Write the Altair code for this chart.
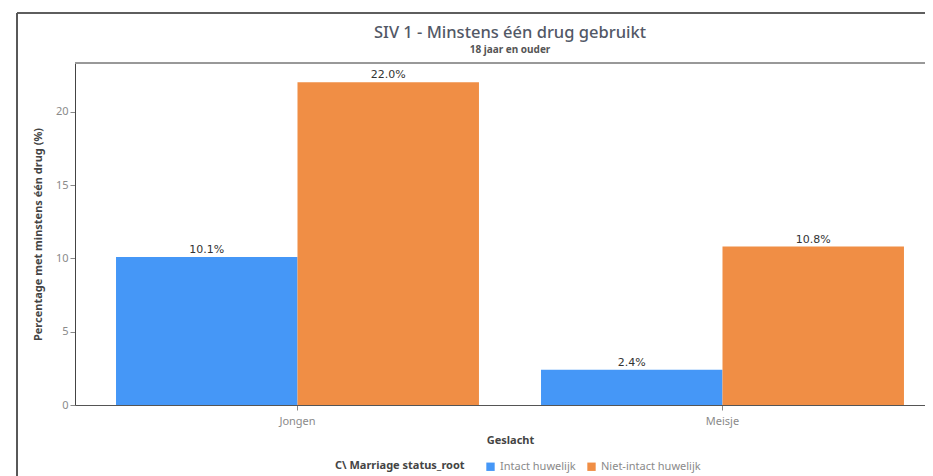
import altair as alt
import pandas as pd

geslacht = ["Jongen", "Jongen", "Meisje", "Meisje"]
status = ["Intact huwelijk", "Niet-intact huwelijk", "Intact huwelijk", "Niet-intact huwelijk"]
waarden = [10.1, 22.0, 2.4, 10.8]
categories = ["Jongen", "Meisje"]
series = ["Intact huwelijk", "Niet-intact huwelijk"]
colors = ["#4597f7", "#f08e45"]

df = pd.DataFrame({"Geslacht": geslacht, "Status": status, "Waarde": waarden})

W, H = 850, 342
FONT = "Noto Sans"

x = alt.X("Geslacht:N", sort=categories, title="Geslacht",
          scale=alt.Scale(paddingInner=0.146, paddingOuter=0.073, align=0.661),
          axis=alt.Axis(labelAngle=0, labelColor="#8a8a8a", labelFontSize=11, labelFont=FONT,
                        titleFontSize=11, titleFont=FONT, titleFontWeight="bold", titleColor="#444",
                        titlePadding=8, titleX=435, tickColor="#888", domainColor="#555", labelPadding=5))
xo = alt.XOffset("Status:N", sort=series, scale=alt.Scale(paddingInner=0, paddingOuter=0))
y = alt.Y("Waarde:Q", title="Percentage met minstens één drug (%)",
          scale=alt.Scale(domain=[0, 23.32], nice=False),
          axis=alt.Axis(values=[0, 5, 10, 15, 20], grid=False, labelColor="#8a8a8a", labelFontSize=11,
                        labelFont=FONT, titleFontSize=11, titleFont=FONT, titleFontWeight="bold",
                        titleColor="#444", titlePadding=12, tickColor="#888", domainColor="#444"))
color = alt.Color("Status:N", sort=series, scale=alt.Scale(domain=series, range=colors),
                  legend=alt.Legend(title="C\\ Marriage status_root", orient="none", legendX=260, legendY=398,
                                    direction="horizontal", titleOrient="left", symbolType="square",
                                    symbolSize=70, symbolStrokeWidth=0, labelColor="#8a8a8a", labelFontSize=11,
                                    labelFont=FONT, titleFont=FONT, titleFontSize=11, titleColor="#444",
                                    titleFontWeight="bold", columnPadding=10, titlePadding=20))

base = alt.Chart(df)
bars = base.mark_bar().encode(x=x, xOffset=xo, y=y, color=color)
labels = base.mark_text(dy=-7, fontSize=11, color="#333", font="DejaVu Sans").encode(
    x=alt.X("Geslacht:N", sort=categories), xOffset=xo, y=alt.Y("Waarde:Q"),
    text=alt.Text("label:N")).transform_calculate(label="format(datum.Waarde, '.1f') + '%'")

topline = alt.Chart(df).mark_rule(color="#999", strokeWidth=1.5).encode(
    x=alt.value(0), x2=alt.value(W), y=alt.value(0))
frame_top = alt.Chart(df).mark_rule(color="#555", strokeWidth=1.2).encode(
    x=alt.value(-58), x2=alt.value(W), y=alt.value(-50))
frame_left = alt.Chart(df).mark_rule(color="#555", strokeWidth=1.2).encode(
    x=alt.value(-58), y=alt.value(-50), y2=alt.value(H + 75))

chart = alt.layer(frame_top, frame_left, topline, bars, labels).properties(
    width=W, height=H,
    title=alt.TitleParams("SIV 1 - Minstens één drug gebruikt", subtitle="18 jaar en ouder",
                          font=FONT, fontSize=16.5, fontWeight=500, color="#525866",
                          subtitleFont=FONT, subtitleFontSize=10, subtitleFontWeight="bold",
                          subtitleColor="#555", anchor="middle", offset=-43, dx=10, subtitlePadding=4),
    autosize=alt.AutoSizeParams(type="none"),
    padding={"left": 67, "top": 55, "right": 0, "bottom": 75},
).configure_view(stroke=None).configure(background="white")

chart.save("out.html", embed_options={"renderer": "svg", "actions": False})
